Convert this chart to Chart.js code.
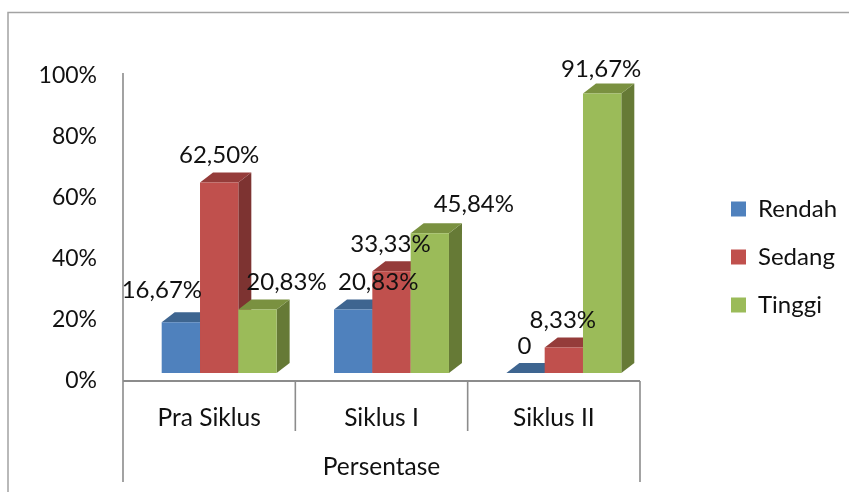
<!DOCTYPE html>
<html><head><meta charset="utf-8">
<style>html,body{margin:0;padding:0;background:#fff}#w{width:849px;height:492px;position:relative}</style>
<script src="https://cdn.jsdelivr.net/npm/chart.js@4/dist/chart.umd.min.js"></script>
</head><body><div id="w"><canvas id="c" width="849" height="492"></canvas></div>
<script>
const categories = ['Pra Siklus', 'Siklus I', 'Siklus II'];
const groupLabels = ['Persentase'];
const rendah = [16.67, 20.83, 0];
const sedang = [62.5, 33.33, 8.33];
const tinggi = [20.83, 45.84, 91.67];

const FONT = 'Lato, Carlito, sans-serif';
const FS = 24;
const AXIS = '#8c8c8c';
const INK = '#111';
const SHIFT = {x: 10, y: -8};
const DEPTH = {x: 13, y: -10};
const faces = [
  {side: '#33537b', top: '#3e6590'},
  {side: '#7d3331', top: '#953c3a'},
  {side: '#667a36', top: '#7a9140'}
];
// hand placement of each data label relative to the top centre of its bar
const labelNudge = [
  [[-19, -32], [25, -27], [-1, -27]],
  [[0, -27], [-1, -27], [-1, -27]],
  [[29, -27], [44, -29], [-1, -24]]
];
const fmt = v => v === 0 ? '0' : v.toFixed(2).replace('.', ',') + '%';

const bars3d = {
  id: 'bars3d',
  beforeDraw(chart) {
    const c = chart.ctx;
    c.save();
    c.strokeStyle = '#a3a3a3'; c.lineWidth = 1.5;
    c.beginPath(); c.moveTo(8, 492); c.lineTo(8, 12.5); c.lineTo(849, 12.5); c.stroke();
    c.restore();
  },
  beforeLayout(chart) {
    const lg = chart.legend;
    if (lg && !lg._wrapped) {
      const f = lg.fit;
      lg.fit = function () { f.call(this); this.width = 209; };
      lg._wrapped = true;
    }
  },
  afterLayout(chart) {
    const lg = chart.legend;
    lg.left = 731 - lg.options.labels.padding; lg.right = 849;
    lg.top = 209 - 12 - lg.options.labels.padding; lg.bottom = 492;
  },
  beforeDatasetsDraw(chart) {
    const c = chart.ctx, a = chart.chartArea, x = chart.scales.x;
    // axes frame
    c.save();
    c.strokeStyle = AXIS;
    c.lineWidth = 2;
    c.beginPath(); c.moveTo(a.left, a.bottom); c.lineTo(a.right, a.bottom); c.stroke();
    c.lineWidth = 1.6;
    const seg = x.width / categories.length;
    c.beginPath();
    c.moveTo(a.left, 73); c.lineTo(a.left, 482);
    c.moveTo(a.right, a.bottom); c.lineTo(a.right, 482);
    for (let i = 1; i < categories.length; i++) {
      c.moveTo(a.left + seg * i, a.bottom); c.lineTo(a.left + seg * i, 431);
    }
    c.stroke();
    c.restore();

    // bars front to back in series order, each with its extruded faces
    c.save();
    c.translate(SHIFT.x, SHIFT.y);
    const base = chart.scales.y.getPixelForValue(0);
    chart.data.datasets.forEach((ds, i) => {
      const f = faces[i];
      chart.getDatasetMeta(i).data.forEach(b => {
        const l = b.x - b.width / 2, r = b.x + b.width / 2, t = b.y;
        c.fillStyle = f.side;
        c.beginPath(); c.moveTo(r, t); c.lineTo(r + DEPTH.x, t + DEPTH.y);
        c.lineTo(r + DEPTH.x, base + DEPTH.y); c.lineTo(r, base); c.closePath(); c.fill();
        c.fillStyle = f.top;
        c.beginPath(); c.moveTo(l, t); c.lineTo(l + DEPTH.x, t + DEPTH.y);
        c.lineTo(r + DEPTH.x, t + DEPTH.y); c.lineTo(r, t); c.closePath(); c.fill();
        b.draw(c);
      });
    });
    chart.data.datasets.forEach((ds, i) => {
      chart.getDatasetMeta(i).data.forEach((b, j) => {
        c.font = FS + 'px ' + FONT; c.fillStyle = INK;
        c.textAlign = 'center'; c.textBaseline = 'middle';
        c.fillText(fmt(ds.data[j]), b.x + labelNudge[i][j][0], b.y + labelNudge[i][j][1]);
      });
    });
    c.restore();
  },
  beforeDatasetDraw() { return false; }
};

const fixH = h => s => { s.height = h; };
new Chart(document.getElementById('c'), {
  type: 'bar',
  data: {
    labels: categories,
    datasets: [
      {label: 'Rendah', data: rendah, backgroundColor: '#4f81bd'},
      {label: 'Sedang', data: sedang, backgroundColor: '#c0504d'},
      {label: 'Tinggi', data: tinggi, backgroundColor: '#9bbb59'}
    ].map(d => Object.assign(d, {clip: false, categoryPercentage: 0.667, barPercentage: 1, borderWidth: 0}))
  },
  options: {
    responsive: false, animation: false, events: [],
    layout: {padding: {top: 76, left: 0, right: 0, bottom: 11}},
    scales: {
      y: {
        min: 0, max: 100,
        grid: {display: false, drawTicks: false}, border: {display: false},
        afterFit: s => { s.width = 123; },
        ticks: {stepSize: 20, padding: 26, color: INK, font: {family: FONT, size: 23}, callback: v => v + '%'}
      },
      x: {
        grid: {display: false, drawTicks: false}, border: {display: false},
        afterFit: fixH(50),
        ticks: {padding: 22, color: INK, font: {family: FONT, size: 24.5}, maxRotation: 0}
      },
      x2: {
        type: 'category', position: 'bottom', labels: groupLabels,
        grid: {display: false, drawTicks: false}, border: {display: false},
        afterFit: fixH(50),
        ticks: {padding: 21, color: INK, font: {family: FONT, size: 24.5}, maxRotation: 0}
      }
    },
    plugins: {
      title: {display: false}, tooltip: {enabled: false},
      legend: {
        position: 'right', align: 'start',
        labels: {boxWidth: 15, boxHeight: 15, padding: 24, color: INK, font: {family: FONT, size: FS}}
      }
    }
  },
  plugins: [bars3d]
});
</script></body></html>
